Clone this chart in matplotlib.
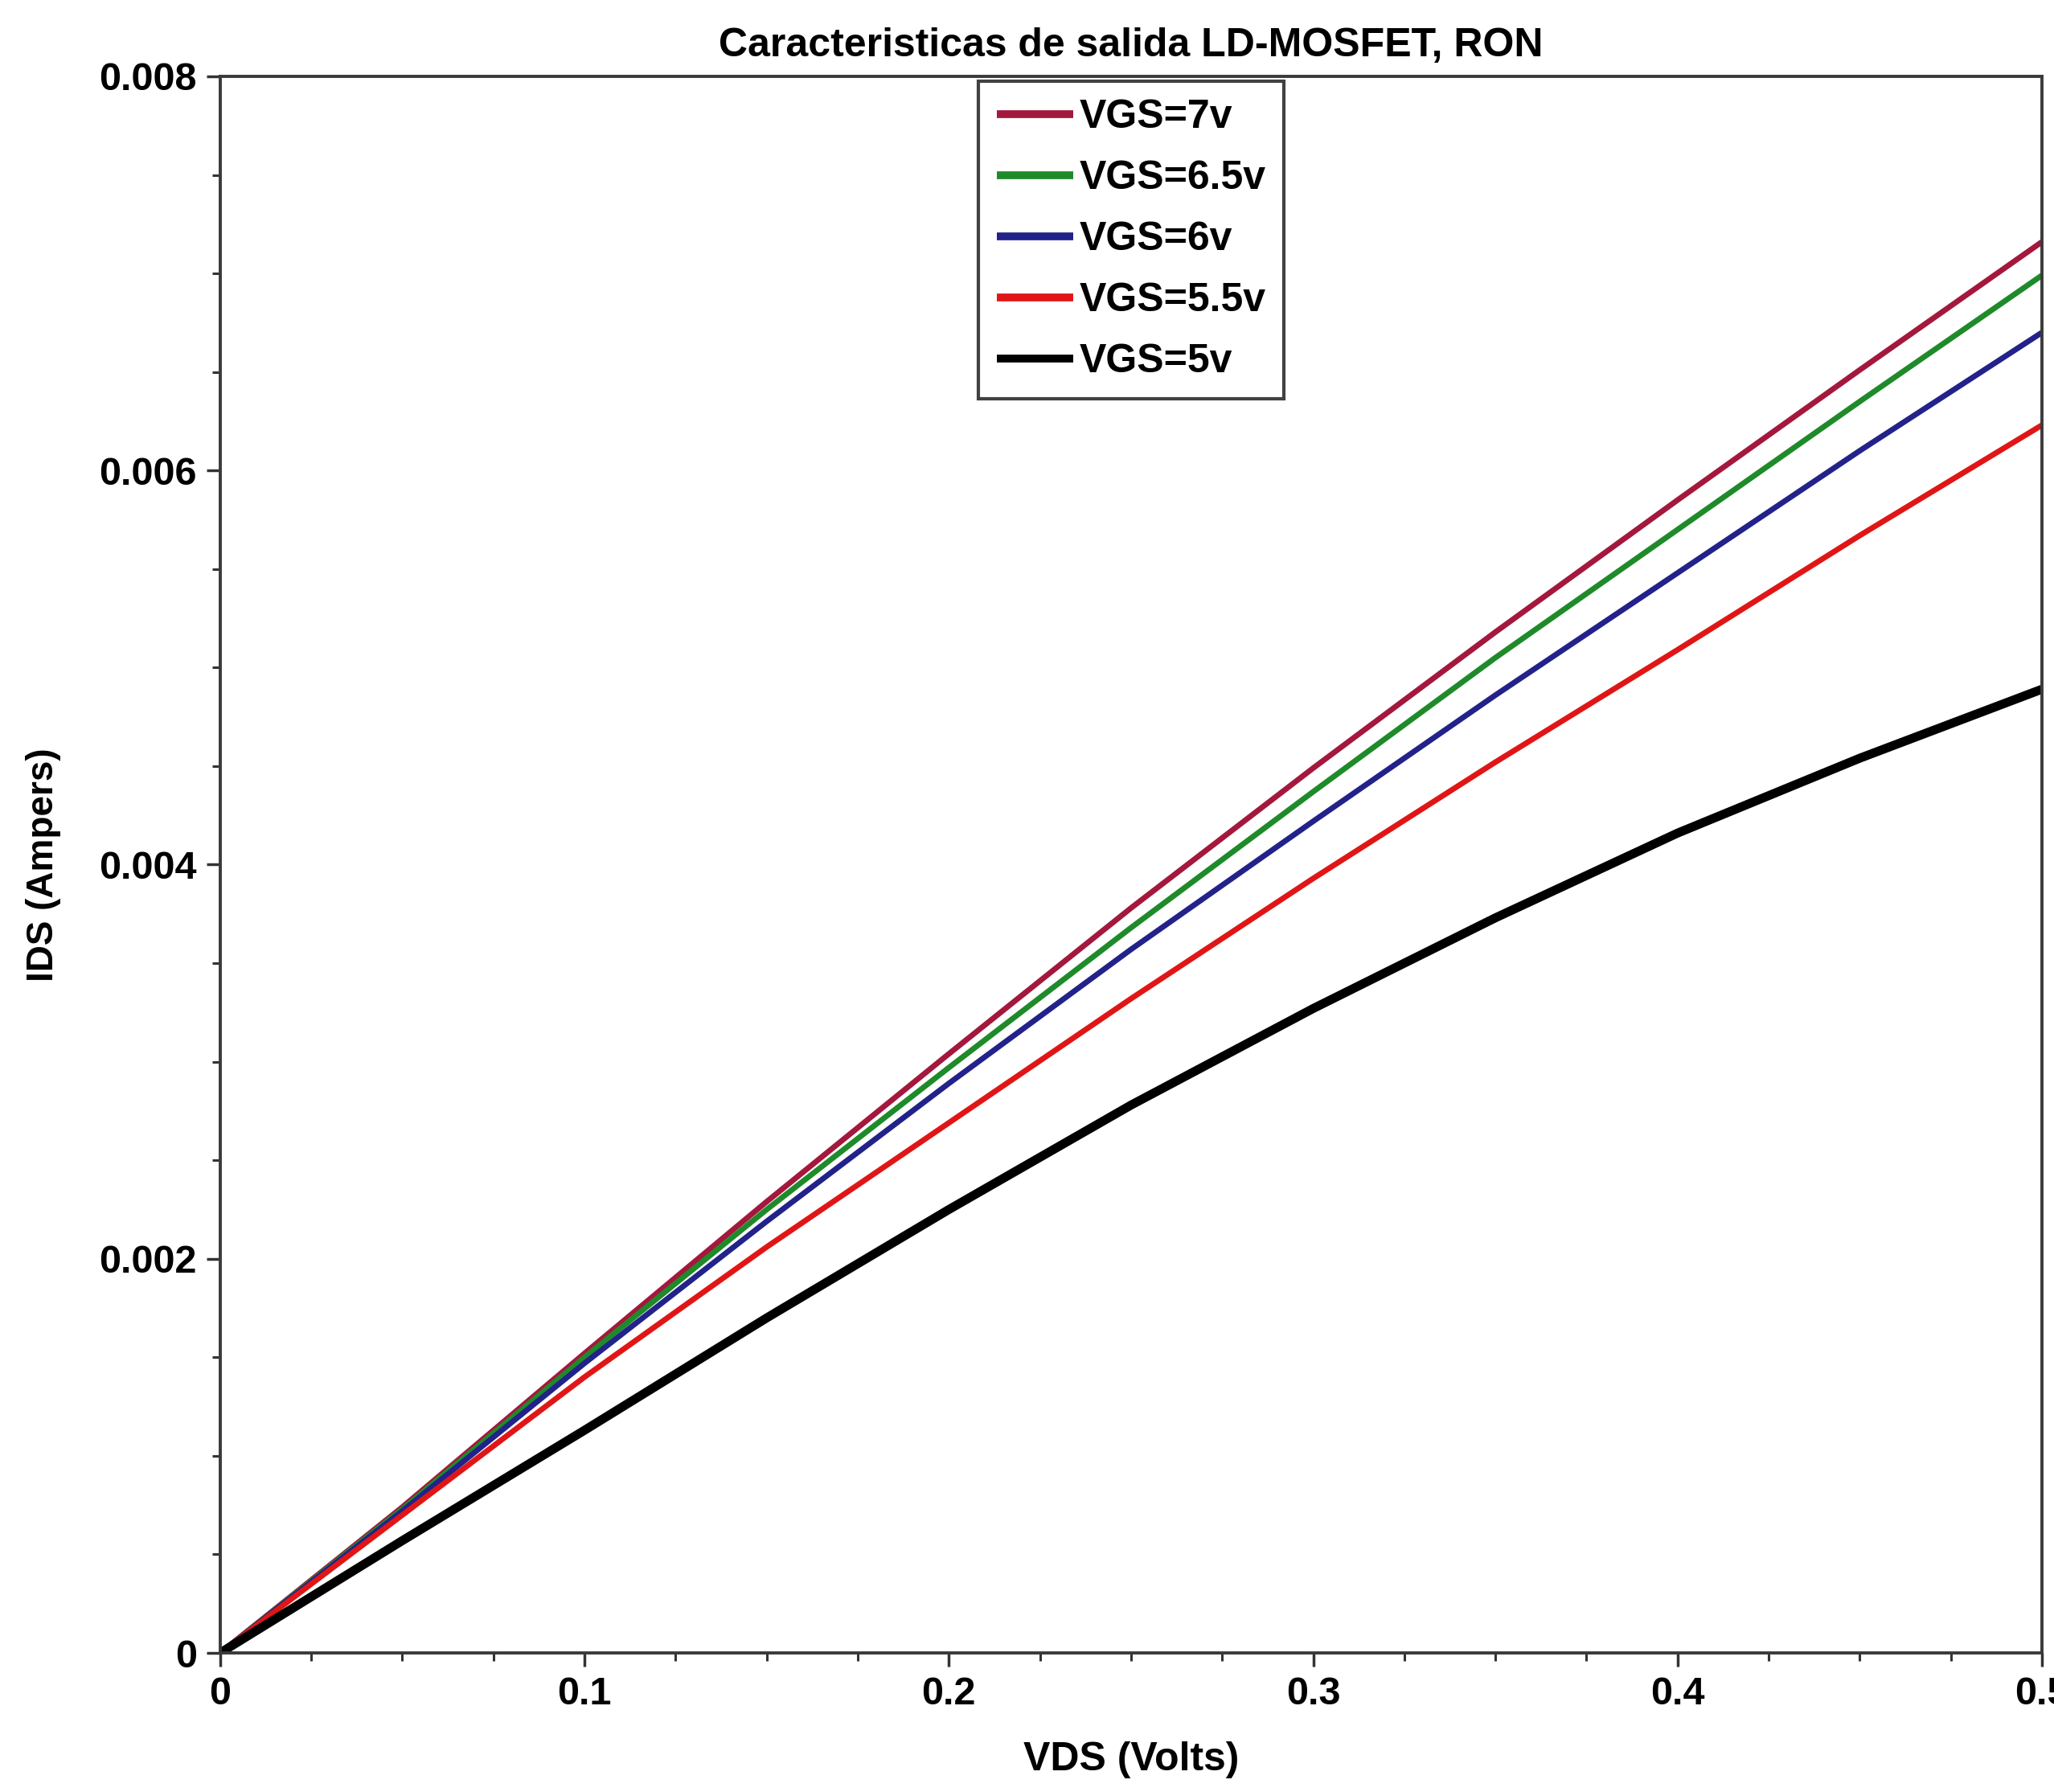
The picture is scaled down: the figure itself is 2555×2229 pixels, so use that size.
import matplotlib
matplotlib.use("Agg")
import matplotlib.pyplot as plt
from matplotlib.ticker import MultipleLocator, FixedFormatter, FixedLocator

plt.rcParams['font.family'] = ['Liberation Sans', 'DejaVu Sans']
plt.rcParams['font.weight'] = 'bold'

# Drain-source voltage sweep (V)
vds = [0.0, 0.05, 0.10, 0.15, 0.20, 0.25, 0.30, 0.35, 0.40, 0.45, 0.50]

# Drain current (mA) for each gate-source voltage
ids_vgs7 = [0.0, 0.74, 1.52, 2.29, 3.04, 3.78, 4.49, 5.18, 5.85, 6.51, 7.16]
ids_vgs65 = [0.0, 0.73, 1.50, 2.25, 2.97, 3.68, 4.37, 5.05, 5.70, 6.35, 6.99]
ids_vgs6 = [0.0, 0.72, 1.47, 2.19, 2.89, 3.57, 4.22, 4.86, 5.48, 6.10, 6.70]
ids_vgs55 = [0.0, 0.70, 1.40, 2.06, 2.69, 3.32, 3.93, 4.52, 5.09, 5.67, 6.23]
ids_vgs5 = [0.0, 0.57, 1.13, 1.70, 2.25, 2.78, 3.27, 3.73, 4.16, 4.54, 4.89]

series_labels = ["VGS=7v", "VGS=6.5v", "VGS=6v", "VGS=5.5v", "VGS=5v"]
series_colors = ["#a3183c", "#1f8a2a", "#22228a", "#e01616", "#000000"]
series_widths = [5.0, 5.0, 5.0, 5.0, 8.0]

x_ticks = [0, 0.1, 0.2, 0.3, 0.4, 0.5]
x_tick_labels = ["0", "0.1", "0.2", "0.3", "0.4", "0.5"]
y_ticks = [0, 0.002, 0.004, 0.006, 0.008]
y_tick_labels = ["0", "0.002", "0.004", "0.006", "0.008"]

fig = plt.figure(figsize=(25.55, 22.29), dpi=100)
ax = fig.add_axes([0.1072, 0.0776, 0.8869, 0.8798])

all_ids = [ids_vgs7, ids_vgs65, ids_vgs6, ids_vgs55, ids_vgs5]
for ids, lab, col, lw in zip(all_ids, series_labels, series_colors, series_widths):
    ax.plot(vds, [v * 1e-3 for v in ids], color=col, lw=lw, label=lab,
            solid_capstyle='butt', solid_joinstyle='round')

ax.set_xlim(0, 0.5)
ax.set_ylim(0, 0.008)

ax.xaxis.set_major_locator(FixedLocator(x_ticks))
ax.xaxis.set_major_formatter(FixedFormatter(x_tick_labels))
ax.xaxis.set_minor_locator(MultipleLocator(0.025))
ax.yaxis.set_major_locator(FixedLocator(y_ticks))
ax.yaxis.set_major_formatter(FixedFormatter(y_tick_labels))
ax.yaxis.set_minor_locator(MultipleLocator(0.0005))

ax.tick_params(which='major', direction='out', length=12, width=2.5,
               color='#333333', labelsize=35, pad=9)
ax.tick_params(which='minor', direction='out', length=7, width=2.2,
               color='#333333')
for lbl in ax.get_xticklabels() + ax.get_yticklabels():
    lbl.set_fontweight('bold')

for sp in ax.spines.values():
    sp.set_linewidth(2.8)
    sp.set_color('#3a3a3a')

ax.set_xlabel("VDS (Volts)", fontsize=36, fontweight='bold', labelpad=26)
ax.set_ylabel("IDS (Ampers)", fontsize=33, fontweight='bold', labelpad=34)
ax.set_title("Caracteristicas de salida LD-MOSFET, RON", fontsize=36,
             fontweight='bold', pad=18)

leg = ax.legend(loc='upper center', bbox_to_anchor=(0.5, 1.0),
                borderaxespad=0.12, frameon=True, fancybox=False,
                handlelength=1.9, handletextpad=0.15, labelspacing=0.6,
                borderpad=0.45, prop={'weight': 'bold', 'size': 36})
leg.get_frame().set_edgecolor('#111111')
leg.get_frame().set_linewidth(3)
for h in leg.get_lines():
    h.set_linewidth(7)

fig.savefig("out.png", dpi=100, facecolor='white')
